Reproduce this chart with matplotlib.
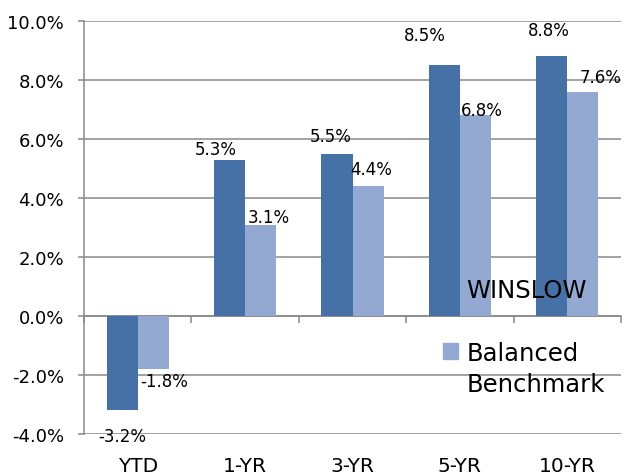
import numpy as np
import matplotlib.pyplot as plt
from matplotlib.patches import Patch
from matplotlib.ticker import FuncFormatter

categories = ["YTD", "1-YR", "3-YR", "5-YR", "10-YR"]
winslow = [-3.2, 5.3, 5.5, 8.5, 8.8]
benchmark = [-1.8, 3.1, 4.4, 6.8, 7.6]

# label nudges in pixels (Excel moved them around to avoid overlap)
winslow_off = [(0, -26), (-14, 11), (-6, 18), (-20, 30), (-3, 26)]
bench_off = [(11, -12), (8, 8), (3, 17), (6, 5), (18, 15)]

dark = "#4571A6"
light = "#94A9D2"
grey = "#898989"
font = "DejaVu Sans"
plt.rcParams['font.family'] = font

fig = plt.figure(figsize=(6.24, 4.77), dpi=100)
ax = fig.add_axes([84/624, 1-435/477, (621-84)/624, 413/477])

x = np.arange(len(categories))
w = 0.29
ax.bar(x - w/2, winslow, w, color=dark, zorder=3)
ax.bar(x + w/2, benchmark, w, color=light, zorder=3)

for i in range(len(x)):
    ax.annotate(f"{winslow[i]:.1f}%", (x[i] - w/2, winslow[i]), xytext=winslow_off[i],
                textcoords='offset pixels', ha='center', va='center', fontsize=12, zorder=5)
    ax.annotate(f"{benchmark[i]:.1f}%", (x[i] + w/2, benchmark[i]), xytext=bench_off[i],
                textcoords='offset pixels', ha='center', va='center', fontsize=12, zorder=5)

ax.set_xlim(-0.5, len(x) - 0.5)
ax.set_ylim(-4, 10)
ax.set_yticks(np.arange(-4, 10.1, 2))
ax.yaxis.set_major_formatter(FuncFormatter(lambda v, p: f"{v:.1f}%"))
ax.grid(axis='y', color=grey, lw=1.1, zorder=0)
ax.tick_params(axis='y', labelsize=13, length=4.5, width=1.1, color=grey, pad=10)

for s in ['top', 'right']:
    ax.spines[s].set_visible(False)
ax.spines['left'].set_color(grey)
ax.spines['left'].set_linewidth(1.1)
ax.spines['bottom'].set_position(('data', 0))
ax.spines['bottom'].set_color(grey)
ax.spines['bottom'].set_linewidth(1.1)
ax.set_xticks(np.arange(-0.5, len(x), 1))
ax.set_xticklabels([])
ax.tick_params(axis='x', length=5, width=1.1, color=grey, direction='out')

sec = ax.secondary_xaxis(0)
sec.set_xticks(x)
sec.set_xticklabels(categories, fontsize=14.5)
sec.tick_params(length=0, pad=16)
sec.spines['bottom'].set_visible(False)

handles = [Patch(color=dark), Patch(color='none'), Patch(color=light), Patch(color='none')]
labels = ["WINSLOW", "", "Balanced", "Benchmark"]
leg = ax.legend(handles, labels, loc='upper left', bbox_to_anchor=(443/624, 1-279/477),
                bbox_transform=fig.transFigure, frameon=False, fontsize=17.5,
                handlelength=0.62, handleheight=0.62, handletextpad=0.35,
                labelspacing=0.3, borderpad=0, borderaxespad=0)
leg.set_zorder(6)

fig.savefig("out.png", dpi=100)
